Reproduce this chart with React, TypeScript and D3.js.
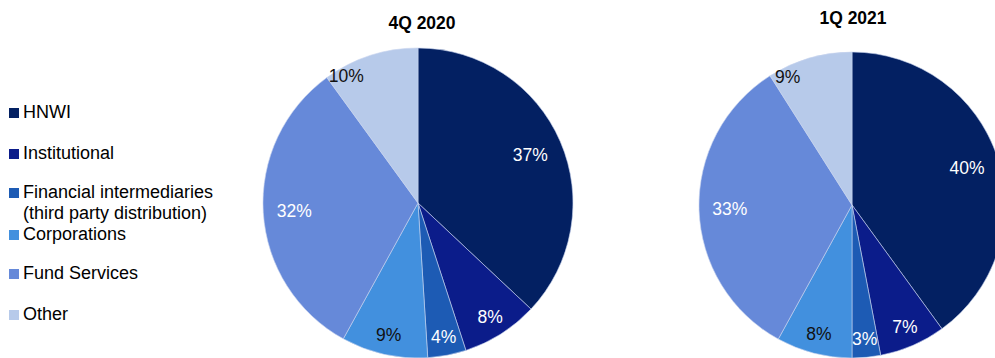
import React from "react";
import * as d3 from "d3";

const categories = ["HNWI", "Institutional", "Financial intermediaries\n(third party distribution)", "Corporations", "Fund Services", "Other"];
const colors = ["#032062", "#0B1C8A", "#1D5BB4", "#4290DE", "#6689D9", "#B7CAEA"];
const labelColors = ["#fff", "#fff", "#fff", "#111", "#fff", "#111"];
const q4_2020 = [37, 8, 4, 9, 32, 10];
const q1_2021 = [40, 7, 3, 8, 33, 9];
const titles = ["4Q 2020", "1Q 2021"];

// label placement (fraction of slice angle, fraction of radius)
const labelAngleFrac = [0.5, 0.5, 0.5, 0.5, 0.5, 0.18];
const labelRadFrac = [0.79, 0.87, 0.88, 0.87, 0.8, 0.94];

const pies = [
  { title: titles[0], values: q4_2020, cx: 418, cy: 203, r: 155, tx: 422, ty: 29 },
  { title: titles[1], values: q1_2021, cx: 852, cy: 205, r: 153, tx: 853, ty: 24 },
];

const legendRows = [118, 159, 198, 240, 279, 320];

export default function App() {
  const pieGen = d3.pie<number>().sort(null).value((d) => d);
  return (
    <svg width={995} height={358} style={{ position: "absolute", left: 0, top: 0, background: "#fff" }}
      fontFamily="'Liberation Sans', Arial, sans-serif">
      {pies.map((p, pi) => {
        const arcs = pieGen(p.values);
        const arc = d3.arc<d3.PieArcDatum<number>>().innerRadius(0).outerRadius(p.r);
        return (
          <g key={pi}>
            <text x={p.tx} y={p.ty} textAnchor="middle" fontWeight="bold" fontSize={17.5} fill="#000">{p.title}</text>
            <g transform={`translate(${p.cx},${p.cy})`}>
              {arcs.map((a, i) => (
                <path key={i} d={arc(a) || ""} fill={colors[i]} stroke="#c8d4ee" strokeWidth={0.6} />
              ))}
              {arcs.map((a, i) => {
                const ang = a.startAngle + (a.endAngle - a.startAngle) * labelAngleFrac[i];
                const lr = labelRadFrac[i] * p.r;
                const x = Math.sin(ang) * lr;
                const y = -Math.cos(ang) * lr;
                return (
                  <text key={i} x={x} y={y} dy="0.35em" textAnchor="middle" fontSize={17.5} fill={labelColors[i]}>
                    {a.value}%
                  </text>
                );
              })}
            </g>
          </g>
        );
      })}
      {categories.map((c, i) => (
        <g key={i}>
          <rect x={9} y={legendRows[i] - 10} width={10} height={10} fill={colors[i]} />
          {c.split("\n").map((line, li) => (
            <text key={li} x={23} y={legendRows[i] + li * 21} fontSize={18} fill="#000">{line}</text>
          ))}
        </g>
      ))}
    </svg>
  );
}
